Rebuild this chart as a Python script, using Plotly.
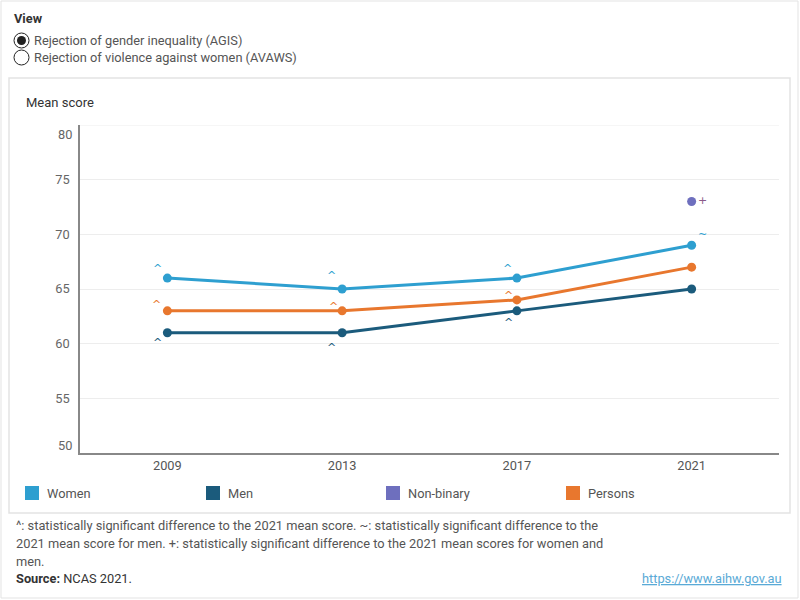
import plotly.graph_objects as go

# ---------------- data ----------------
years = ["2009", "2013", "2017", "2021"]
women = [66, 65, 66, 69]
men = [61, 61, 63, 65]
persons = [63, 63, 64, 67]
nonbinary_years = ["2021"]
nonbinary = [73]

women_sig = ["^", "^", "^", "~"]
men_sig = ["^", "^", "^", ""]
persons_sig = ["^", "^", "^", ""]
nonbinary_sig = ["+"]

series_names = ["Women", "Men", "Non-binary", "Persons"]
y_ticks = [50, 55, 60, 65, 70, 75, 80]

footnote_lines = [
    "^: statistically significant difference to the 2021 mean score. ~: statistically significant difference to the",
    "2021 mean score for men. +: statistically significant difference to the 2021 mean scores for women and",
    "men.",
]

# ---------------- style ----------------
COL = {"Women": "#2E9FD0", "Men": "#1B5B7C", "Non-binary": "#6E6FBE", "Persons": "#E8772E"}
FONT = "Roboto, 'Noto Sans', sans-serif"
SIGFONT = "'DejaVu Sans', sans-serif"
FS = 12.8
W, H = 800, 600
L, R, T, B = 80, 779, 125, 453


def px(x):
    return (x - L) / (R - L)


def py(y):
    return (B - y) / (B - T)


fig = go.Figure()

# series lines
for name, vals in [("Women", women), ("Persons", persons), ("Men", men)]:
    fig.add_trace(go.Scatter(
        x=years, y=vals, mode="lines+markers", name=name,
        line=dict(color=COL[name], width=3),
        marker=dict(color=COL[name], size=9),
        showlegend=False, hoverinfo="skip",
    ))
fig.add_trace(go.Scatter(
    x=nonbinary_years, y=nonbinary, mode="markers", name="Non-binary",
    marker=dict(color=COL["Non-binary"], size=9), showlegend=False, hoverinfo="skip",
))

annotations = []

# significance markers (offsets in px)
sig_offsets = {
    "Women": [(-10, 10), (-11, 14), (-9, 10), (11, 11)],
    "Persons": [(-11, 6), (-9, 4), (-8, 4), (0, 0)],
    "Men": [(-10, -10), (-11, -15), (-8, -12), (0, 0)],
}
for name, vals, sigs in [("Women", women, women_sig), ("Persons", persons, persons_sig), ("Men", men, men_sig)]:
    for i, (yr, v, s) in enumerate(zip(years, vals, sigs)):
        if not s:
            continue
        dx, dy = sig_offsets[name][i]
        annotations.append(dict(
            x=years.index(yr), y=v, xref="x", yref="y", text=s, showarrow=False,
            xshift=dx, yshift=dy, font=dict(family=SIGFONT, size=11, color=COL[name]),
        ))
for yr, v, s in zip(nonbinary_years, nonbinary, nonbinary_sig):
    annotations.append(dict(
        x=years.index(yr), y=v, xref="x", yref="y", text=s, showarrow=False,
        xshift=11, yshift=1, font=dict(family=SIGFONT, size=11, color="#8A5A8A"),
    ))

# y tick labels 80 and 50 (shifted inward like the reference)
annotations.append(dict(x=0, y=80, xref="paper", yref="y", text="80", showarrow=False,
                        xanchor="right", xshift=-6, yshift=-9,
                        font=dict(family=FONT, size=FS, color="#666")))
annotations.append(dict(x=0, y=50, xref="paper", yref="y", text="50", showarrow=False,
                        xanchor="right", xshift=-6, yshift=8,
                        font=dict(family=FONT, size=FS, color="#666")))

# header texts
annotations.append(dict(x=px(12), y=py(18), xref="paper", yref="paper", text="<b>View</b>",
                        showarrow=False, xanchor="left", yanchor="middle",
                        font=dict(family=FONT, size=FS, color="#333")))
annotations.append(dict(x=px(32), y=py(40), xref="paper", yref="paper",
                        text="Rejection of gender inequality (AGIS)",
                        showarrow=False, xanchor="left", yanchor="middle",
                        font=dict(family=FONT, size=FS, color="#555")))
annotations.append(dict(x=px(32), y=py(57), xref="paper", yref="paper",
                        text="Rejection of violence against women (AVAWS)",
                        showarrow=False, xanchor="left", yanchor="middle",
                        font=dict(family=FONT, size=FS, color="#555")))
annotations.append(dict(x=px(24), y=py(103), xref="paper", yref="paper", text="Mean score",
                        showarrow=False, xanchor="left", yanchor="middle",
                        font=dict(family=FONT, size=13, color="#333")))

# legend (manual)
legend_x = [25, 206, 386, 566]
shapes = []
for name, lx in zip(series_names, legend_x):
    shapes.append(dict(type="rect", xref="paper", yref="paper",
                       x0=px(lx), x1=px(lx + 14), y0=py(500), y1=py(486),
                       fillcolor=COL[name], line=dict(width=0)))
    annotations.append(dict(x=px(lx + 20), y=py(493), xref="paper", yref="paper", text=name,
                            showarrow=False, xanchor="left", yanchor="middle",
                            font=dict(family=FONT, size=FS, color="#555")))

# footnotes
for i, line in enumerate(footnote_lines):
    annotations.append(dict(x=px(14), y=py(525 + 18 * i), xref="paper", yref="paper", text=line,
                            showarrow=False, xanchor="left", yanchor="middle",
                            font=dict(family=FONT, size=FS, color="#555")))
annotations.append(dict(x=px(14), y=py(578), xref="paper", yref="paper",
                        text="<b>Source:</b> NCAS 2021.",
                        showarrow=False, xanchor="left", yanchor="middle",
                        font=dict(family=FONT, size=FS, color="#333")))
annotations.append(dict(x=px(784), y=py(578), xref="paper", yref="paper",
                        text="<u>https://www.aihw.gov.au</u>",
                        showarrow=False, xanchor="right", yanchor="middle",
                        font=dict(family=FONT, size=FS, color="#5AAAD6")))

# frames
shapes.append(dict(type="rect", xref="paper", yref="paper",
                   x0=px(1), x1=px(798), y0=py(598), y1=py(1),
                   line=dict(color="#E3E3E3", width=1), layer="below"))
shapes.append(dict(type="rect", xref="paper", yref="paper",
                   x0=px(9), x1=px(790), y0=py(513), y1=py(78),
                   line=dict(color="#E3E3E3", width=1.5), layer="below"))
# radio buttons
shapes.append(dict(type="circle", xref="paper", yref="paper",
                   x0=px(14), x1=px(29), y0=py(48), y1=py(33),
                   line=dict(color="#222", width=1), fillcolor="white"))
shapes.append(dict(type="circle", xref="paper", yref="paper",
                   x0=px(17), x1=px(26), y0=py(45), y1=py(36),
                   line=dict(width=0), fillcolor="#222"))
shapes.append(dict(type="circle", xref="paper", yref="paper",
                   x0=px(14), x1=px(29), y0=py(65), y1=py(50),
                   line=dict(color="#222", width=1), fillcolor="white"))

fig.update_layout(
    width=W, height=H,
    margin=dict(l=L, r=W - R, t=T, b=H - B),
    paper_bgcolor="white", plot_bgcolor="white",
    font=dict(family=FONT, size=FS, color="#555"),
    showlegend=False,
    annotations=annotations, shapes=shapes,
    xaxis=dict(type="category", range=[-0.5, 3.5], showgrid=False,
               showline=True, linecolor="#888", linewidth=1.5,
               tickfont=dict(family=FONT, size=FS, color="#555"),
               ticks="", fixedrange=True),
    yaxis=dict(range=[50, 80], tickvals=y_ticks[1:-1], showgrid=True, gridcolor="#EDEDED",
               gridwidth=1, showline=True, linecolor="#888", linewidth=1.5,
               zeroline=False, ticks="", ticklabelstandoff=6,
               tickfont=dict(family=FONT, size=FS, color="#666"), fixedrange=True),
)
# gridline at 80
fig.add_hline(y=80, line=dict(color="#EDEDED", width=1), layer="below")

fig.write_html("out.html")
